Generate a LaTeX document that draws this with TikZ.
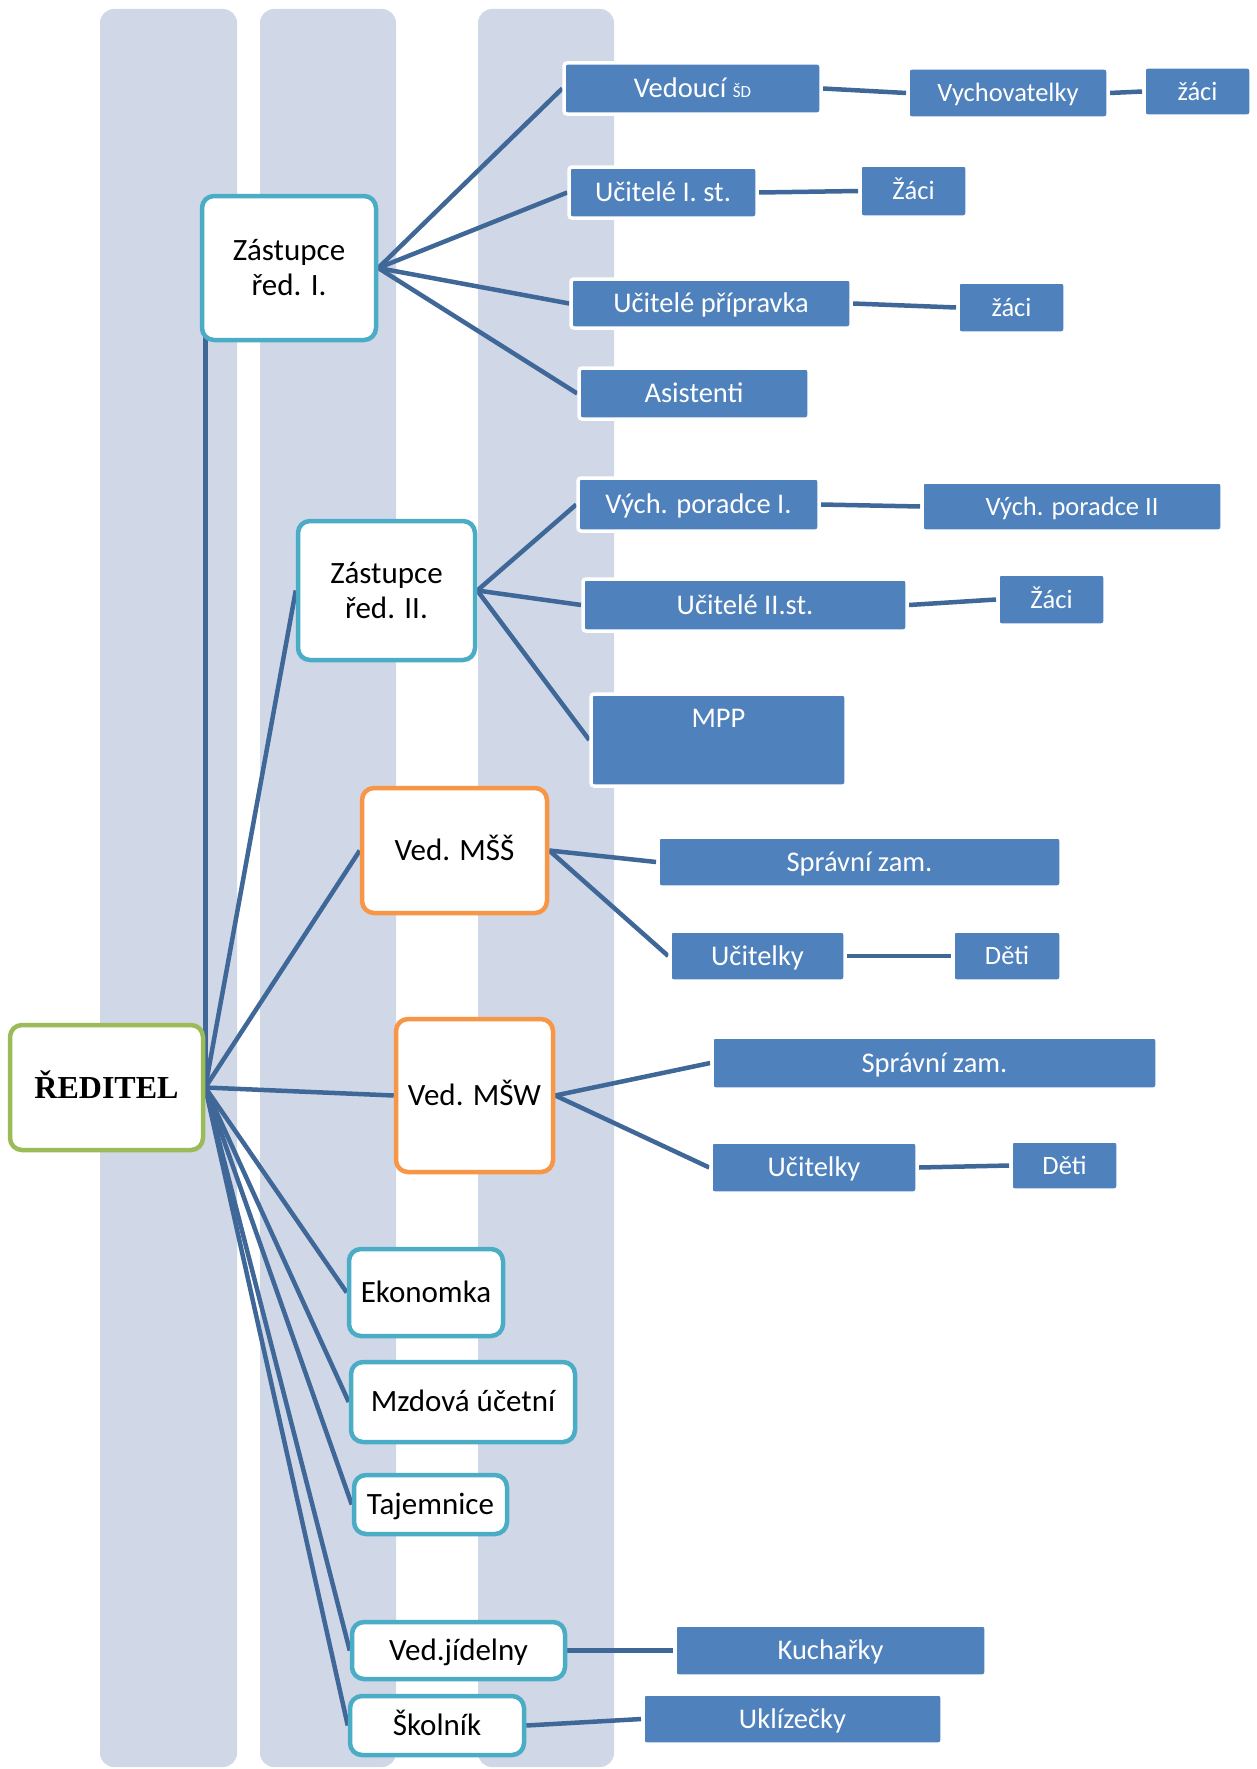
\documentclass[tikz,border=0pt]{standalone}
\usepackage{fontspec}
\setmainfont{Carlito}
\newfontfamily\tnr{Liberation Serif}
\definecolor{colbg}{HTML}{D0D8E8}
\definecolor{boxblue}{HTML}{4F81BD}
\definecolor{linecol}{HTML}{3F6797}
\definecolor{grn}{HTML}{9BBB59}
\definecolor{cyanb}{HTML}{4BACC6}
\definecolor{orng}{HTML}{F79646}
\pgfdeclarelayer{back}
\pgfdeclarelayer{mid}
\pgfsetlayers{back,mid,main}
\tikzset{
  colstrip/.style={fill=colbg, draw=none, rounded corners=14pt},
  wbox/.style={draw=#1, line width=4.5pt, fill=white, rounded corners=12pt, inner sep=0pt, align=center, font=\fontsize{31}{35}\selectfont},
  wone/.style={text height=19.9pt, text depth=0pt},
  bbox/.style={draw=white, line width=3.5pt, fill=boxblue, rounded corners=3pt, inner sep=0pt, text=white, font=\fontsize{28.5}{34}\selectfont, text height=18.3pt, text depth=0pt},
  sbox/.style={bbox, font=\fontsize{26.5}{32}\selectfont, text height=17pt},
  conn/.style={draw=linecol, line width=4.5pt},
}
\begin{document}
\begin{tikzpicture}[x=1pt,y=-1pt]
\useasboundingbox (0,0) rectangle (1257,1769);
\begin{pgfonlayer}{back}
\fill[white] (0,0) rectangle (1257,1769);
\fill[colstrip] (100,9) rectangle (237,1767);
\fill[colstrip] (260,9) rectangle (396,1767);
\fill[colstrip] (478,9) rectangle (614,1767);
\end{pgfonlayer}

% white nodes
\node[wbox=grn, minimum width=193pt, minimum height=125pt, font=\tnr\bfseries\fontsize{32}{38}\selectfont, text height=21pt, text depth=0pt] (red) at (106.5,1087.5) {ŘEDITEL};
\node[wbox=cyanb, minimum width=174pt, minimum height=144pt] (z1) at (289,268) {Zástupce\\řed. I.};
\node[wbox=cyanb, minimum width=177pt, minimum height=139pt] (z2) at (386.5,590.5) {Zástupce\\řed. II.};
\node[wbox=orng, wone, minimum width=185pt, minimum height=125pt] (mss) at (454.5,850.5) {Ved. MŠŠ};
\node[wbox=orng, wone, minimum width=157pt, minimum height=153pt] (msw) at (474.5,1095.5) {Ved. MŠW};
\node[wbox=cyanb, wone, minimum width=154pt, minimum height=87pt] (eko) at (426,1292.5) {Ekonomka};
\node[wbox=cyanb, wone, minimum width=224pt, minimum height=80pt] (mzd) at (463,1402) {Mzdová účetní};
\node[wbox=cyanb, wone, minimum width=153pt, minimum height=59pt] (taj) at (430.5,1504.5) {Tajemnice};
\node[wbox=cyanb, wone, minimum width=213pt, minimum height=57pt] (jid) at (458.5,1650.5) {Ved.jídelny};
\node[wbox=cyanb, wone, minimum width=174pt, minimum height=59pt] (sko) at (437,1725.5) {Školník};

% blue nodes
\node[bbox, minimum width=257pt, minimum height=51pt] (vsd) at (692.5,88.5) {Vedoucí {\fontsize{17}{20}\selectfont ŠD}};
\node[sbox, minimum width=200pt, minimum height=50pt] (vych) at (1008,93) {Vychovatelky};
\node[sbox, minimum width=107pt, minimum height=49pt] (zaa) at (1197.5,91.5) {žáci};
\node[bbox, minimum width=188pt, minimum height=51pt] (uc1) at (663,192.5) {Učitelé I. st.};
\node[sbox, minimum width=107pt, minimum height=52pt] (zab) at (913.5,191) {Žáci};
\node[bbox, minimum width=280pt, minimum height=49pt] (ucp) at (711,303.5) {Učitelé přípravka};
\node[sbox, minimum width=107pt, minimum height=51pt] (zac) at (1011.5,307.5) {žáci};
\node[bbox, minimum width=230pt, minimum height=51pt] (asi) at (694,393.5) {Asistenti};
\node[bbox, minimum width=241pt, minimum height=53pt] (vp1) at (698.5,504.5) {Vých. poradce I.};
\node[sbox, minimum width=300pt, minimum height=49pt] (vp2) at (1072,506.5) {Vých. poradce II};
\node[bbox, minimum width=324pt, minimum height=52pt] (uc2) at (745,605) {Učitelé II.st.};
\node[sbox, minimum width=107pt, minimum height=51pt] (zad) at (1051.5,599.5) {Žáci};
\node[bbox, minimum width=255pt, minimum height=92pt, text height=33pt, text depth=59pt] (mpp) at (718.5,740) {MPP};
\node[bbox, minimum width=403pt, minimum height=50pt] (sz1) at (859.5,862) {Správní zam.};
\node[bbox, minimum width=175pt, minimum height=50pt] (uk1) at (757.5,956) {Učitelky};
\node[sbox, minimum width=108pt, minimum height=50pt] (de1) at (1007,956) {Děti};
\node[bbox, minimum width=445pt, minimum height=52pt] (sz2) at (934.5,1063) {Správní zam.};
\node[bbox, minimum width=206pt, minimum height=51pt] (uk2) at (814,1167.5) {Učitelky};
\node[sbox, minimum width=107pt, minimum height=49pt] (de2) at (1064.5,1165.5) {Děti};
\node[bbox, minimum width=311pt, minimum height=51pt] (kuc) at (830.5,1650.5) {Kuchařky};
\node[bbox, minimum width=299pt, minimum height=50pt] (ukl) at (792.5,1719) {Uklízečky};

\begin{pgfonlayer}{mid}
\draw[conn] (red.east) -- (red.east |- z1.west);
\foreach \t in {z2,mss,msw,eko,mzd,taj,jid,sko} \draw[conn] (red.east) -- (\t.west);
\foreach \t in {vsd,uc1,ucp,asi} \draw[conn] (z1.east) -- (\t.west);
\foreach \t in {vp1,uc2,mpp} \draw[conn] (z2.east) -- (\t.west);
\foreach \t in {sz1,uk1} \draw[conn] (mss.east) -- (\t.west);
\foreach \t in {sz2,uk2} \draw[conn] (msw.east) -- (\t.west);
\draw[conn] (vsd.east) -- (vych.west);
\draw[conn] (vych.east) -- (zaa.west);
\draw[conn] (uc1.east) -- (zab.west);
\draw[conn] (ucp.east) -- (zac.west);
\draw[conn] (vp1.east) -- (vp2.west);
\draw[conn] (uc2.east) -- (zad.west);
\draw[conn] (uk1.east) -- (de1.west);
\draw[conn] (uk2.east) -- (de2.west);
\draw[conn] (jid.east) -- (kuc.west);
\draw[conn] (sko.east) -- (ukl.west);
\end{pgfonlayer}
\end{tikzpicture}
\end{document}
